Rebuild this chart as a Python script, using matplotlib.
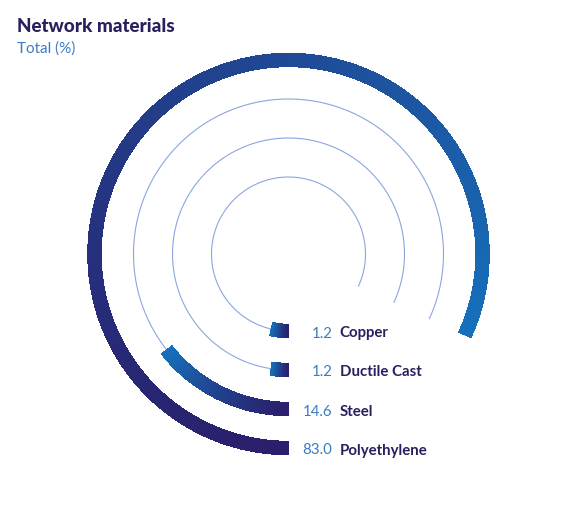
import numpy as np
import matplotlib
matplotlib.use('Agg')
import matplotlib.pyplot as plt
from matplotlib.colors import LinearSegmentedColormap
from matplotlib.transforms import offset_copy

# Data (outer ring first)
materials = ['Polyethylene', 'Steel', 'Ductile Cast', 'Copper']
shares = [83.0, 14.6, 1.2, 1.2]

# Colours
DARK = '#2a1f6c'
BLUE = '#1670bb'
TRACK = '#8ba6df'
VALUE = '#3a7bc8'
NAVY = '#2a1f5e'

W, H = 575, 508
fig = plt.figure(figsize=(W / 100, H / 100), dpi=100)

# polar axes, 1 data unit = 1 pixel
R = 215
cx, cy = 288.5, 254
ax = fig.add_axes([(cx - R) / W, (H - cy - R) / H, 2 * R / W, 2 * R / H], polar=True)
ax.set_theta_zero_location('S')
ax.set_theta_direction(-1)
ax.set_ylim(0, R)
ax.axis('off')

cmap = LinearSegmentedColormap.from_list('grad', [DARK, BLUE])

deg_per_pct = 3.55
bar_w = 13.5
min_len = 17.5
radii = 194 - 39 * np.arange(len(materials))
end_max = np.deg2rad(max(shares) * deg_per_pct)

for name, val, r in zip(materials, shares, radii):
    # thin track
    th = np.linspace(0, end_max, 400)
    ax.plot(th, np.full_like(th, r), color=TRACK, lw=0.8, zorder=1)

    # gradient bar, sliced into ~1.5 px pieces
    span = max(np.deg2rad(val * deg_per_pct), min_len / r)
    n = max(int(span * r / 1.5), 6)
    edges = np.linspace(0, span, n + 1)
    mids = (edges[:-1] + edges[1:]) / 2 / span
    cols = cmap(mids ** 1.3)
    ax.bar(edges[:-1], bar_w, width=np.diff(edges), bottom=r - bar_w / 2,
           align='edge', color=cols, linewidth=0, antialiased=False, zorder=2)

    tr_val = offset_copy(ax.transData, fig=fig, x=44, y=-6.5, units='dots')
    tr_name = offset_copy(ax.transData, fig=fig, x=51, y=-6.5, units='dots')
    ax.text(0, r, f'{val:.1f}', transform=tr_val, ha='right', va='baseline',
            fontsize=10.8, color=VALUE, family='Lato')
    ax.text(0, r, name, transform=tr_name, ha='left', va='baseline',
            fontsize=10.8, color=NAVY, family='Lato', fontweight='bold')

fig.text(17 / W, 1 - 32 / H, 'Network materials', fontsize=13.6, color=NAVY,
         family='Lato', fontweight='black', ha='left', va='baseline')
fig.text(17 / W, 1 - 53 / H, 'Total (%)', fontsize=11, color=VALUE,
         family='Lato', ha='left', va='baseline')

fig.savefig('out.png', dpi=100)
